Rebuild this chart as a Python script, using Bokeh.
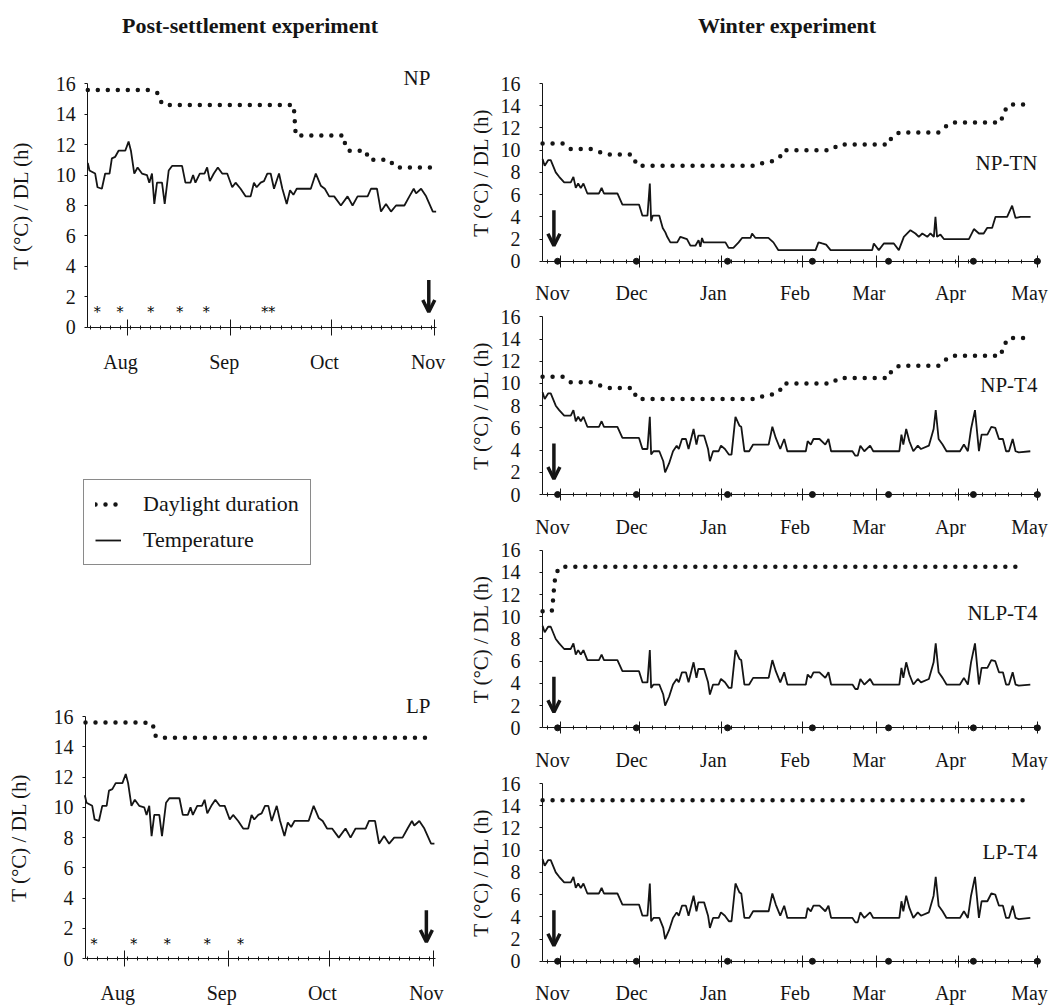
from bokeh.plotting import figure
from bokeh.models import (FixedTicker, LinearAxis, Range1d, Label, Arrow, OpenHead,
                          Legend, LegendItem, Div)
from bokeh.layouts import column, row
from bokeh.embed import file_html
from bokeh.resources import INLINE
from bokeh.core.properties import value

# ======================= DATA =======================
y_ticks = [0, 2, 4, 6, 8, 10, 12, 14, 16]

# ---- Post-settlement experiment (x = days since 1 Aug) ----
post_month_days = [0, 31, 61, 92]
post_month_names = ["Aug", "Sep", "Oct", "Nov"]

post_temp_day = [-11.8, -11.3, -9.6, -8.9, -7.6, -6.6, -5.3, -4.6, -3.6, -2.6, -0.6, 0.4, 1.1,
                 2.1, 3.1, 4.4, 5.9, 6.6, 7.4, 8.1, 8.9, 10.4, 11.2, 12.4, 13.4, 16.4, 17.4,
                 18.9, 19.7, 20.4, 21.7, 23.1, 23.9, 24.7, 25.9, 27.1, 28.4, 29.9, 31.4, 32.4,
                 33.9, 35.4, 36.9, 37.9, 38.7, 39.9, 40.9, 41.9, 42.9, 43.9, 45.4, 46.4, 47.7,
                 48.7, 49.7, 50.7, 54.9, 56.4, 57.9, 59.1, 60.4, 61.9, 63.9, 65.9, 67.4, 68.9,
                 71.9, 72.9, 74.7, 75.9, 77.4, 78.9, 80.4, 82.9, 84.4, 85.7, 86.4, 87.9, 89.4,
                 91.4, 92.4]
post_temp_val = [10.8, 10.3, 10.1, 9.2, 9.1, 10.1, 10.1, 11.1, 11.2, 11.6, 11.6, 12.2, 11.6,
                 10.1, 10.5, 10.1, 10.0, 9.5, 10.1, 8.1, 9.5, 9.5, 8.1, 10.3, 10.6, 10.6, 9.5,
                 9.5, 10.0, 9.5, 10.1, 10.1, 10.5, 9.6, 10.1, 10.5, 10.1, 10.1, 9.2, 9.5,
                 9.1, 8.6, 8.6, 9.5, 9.2, 9.5, 9.6, 10.1, 10.1, 9.1, 10.1, 9.1, 8.1,
                 9.0, 8.7, 9.1, 9.1, 10.1, 9.3, 9.1, 8.6, 8.6, 8.0, 8.6, 8.0, 8.6,
                 8.6, 9.1, 9.1, 7.6, 8.1, 7.6, 8.0, 8.0, 8.6, 9.1, 8.8, 9.1, 8.6,
                 7.6, 7.6]

np_dl_day = [-11.8, 6.5, 9.0, 9.8, 11.0, 49.8, 50.4, 64.8, 65.3, 66.5, 71.3, 72.3, 78.3, 80.3, 92.2]
np_dl_val = [15.6, 15.6, 15.4, 14.9, 14.6, 14.6, 12.6, 12.6, 11.8, 11.6, 11.6, 11.0, 11.0, 10.5, 10.5]

lp_dl_day = [-11.6, 5.8, 8.5, 8.9, 10.0, 91.2]
lp_dl_val = [15.6, 15.6, 15.5, 14.8, 14.6, 14.6]

np_star_day = [-9.0, -2.2, 7.0, 15.7, 23.6, 42.2]
np_star_txt = ["*", "*", "*", "*", "*", "**"]
lp_star_day = [-9.1, 2.8, 12.8, 24.7, 34.6]
lp_star_txt = ["*", "*", "*", "*", "*"]
star_level = 1.0

np_arrow = (90.2, 3.1, 1.0)   # day, top, tip
lp_arrow = (90.0, 3.2, 1.1)

# ---- Winter experiment (x = days since 1 Nov) ----
win_month_days = [0, 30, 61, 92, 120, 151, 181]
win_month_names = ["Nov", "Dec", "Jan", "Feb", "Mar", "Apr", "May"]
win_sample_day = [-1.1, 28.8, 63.4, 95.6, 124.5, 156.7, 181.0]

tn_temp_day = [-6.8, -6.0, -4.7, -3.7, -1.8, -0.5, 1.4, 3.9, 4.9, 5.8, 6.7, 7.7, 8.7, 10.2,
               14.6, 15.6, 16.5, 21.6, 23.5, 29.8, 31.1, 33.0, 33.9, 34.4, 35.0, 37.5, 38.8,
               39.8, 40.5, 41.7, 44.3, 45.5, 48.0, 49.3, 51.2, 52.4, 53.1, 53.7, 54.3, 62.6,
               63.8, 65.6, 67.6, 68.9, 72.1, 72.7, 74.0, 78.9, 80.8, 82.7, 96.8, 97.9, 99.3,
               100.8, 102.5, 118.3, 118.9, 120.8, 122.7, 126.5, 128.4, 130.3, 132.8, 134.7,
               136.0, 137.3, 139.2, 140.4, 141.7, 142.3, 142.9, 144.2, 145.5, 155.0, 156.9,
               158.8, 160.6, 161.9, 163.8, 165.1, 169.5, 171.4, 172.7, 174.6, 178.4]
tn_temp_val = [9.2, 8.6, 9.1, 9.1, 8.0, 7.6, 7.1, 7.1, 7.6, 6.6, 7.0, 6.6, 7.0, 6.1,
               6.1, 6.6, 6.1, 6.1, 5.1, 5.1, 4.1, 4.1, 7.0, 3.6, 4.1, 4.1, 3.0,
               2.6, 2.2, 1.7, 1.7, 2.2, 2.0, 1.4, 1.4, 1.9, 1.3, 2.1, 1.7, 1.7,
               1.2, 1.2, 1.7, 2.1, 2.1, 2.5, 2.1, 2.1, 1.7, 1.0, 1.0, 1.7, 1.6,
               1.5, 1.0, 1.0, 1.6, 1.0, 1.6, 1.6, 1.0, 2.2, 2.8, 2.5,
               2.2, 2.5, 2.2, 2.5, 2.2, 4.0, 2.2, 2.4, 2.0, 2.0, 2.9,
               2.5, 2.5, 3.0, 3.0, 4.0, 4.0, 5.0, 3.9, 4.0, 4.0]

t4_temp_day = [-6.8, -6.0, -4.7, -3.7, -1.8, -0.5, 1.4, 3.9, 4.9, 5.8, 6.7, 7.7, 8.7, 10.2,
               14.6, 15.6, 16.5, 21.6, 23.5, 29.8, 31.1, 33.0, 33.9, 34.4, 35.3, 37.5, 39.0,
               39.7, 41.2, 42.7, 44.1, 44.9, 46.1, 47.6, 48.6, 50.5, 51.6, 52.3, 54.5, 56.0,
               56.7, 57.9, 60.0, 60.9, 62.4, 63.9, 64.9, 66.4, 67.9, 68.6, 69.8, 71.6, 73.1,
               74.5, 79.0, 80.4, 81.7, 83.4, 84.9, 86.1, 93.1, 93.8, 95.0, 96.0, 98.3, 100.5,
               101.7, 102.7, 110.8, 111.9, 112.8, 113.8, 115.3, 117.5, 118.7, 128.6, 129.4,
               130.1, 131.2, 132.4, 133.9, 135.6, 136.8, 139.8, 141.6, 142.4, 143.5, 145.0,
               146.5, 151.6, 153.1, 154.6, 155.8, 157.3, 158.8, 159.8, 162.0, 163.5, 165.0,
               166.4, 167.9, 169.1, 170.2, 171.6, 172.7, 173.9, 178.3]
t4_temp_val = [9.2, 8.6, 9.1, 9.1, 8.0, 7.6, 7.1, 7.1, 7.6, 6.6, 7.0, 6.6, 7.0, 6.1,
               6.1, 6.6, 6.1, 6.1, 5.1, 5.1, 4.1, 4.1, 7.0, 3.6, 3.9, 3.9, 3.0,
               2.0, 2.8, 3.9, 4.4, 4.1, 5.0, 5.0, 4.1, 5.9, 4.5, 5.3, 5.3, 4.1,
               3.0, 3.9, 3.9, 4.4, 4.1, 3.6, 3.6, 7.0, 6.2, 6.1, 3.9, 3.9, 4.5,
               4.5, 4.5, 6.1, 5.1, 4.1, 5.0, 3.9, 3.9, 4.8, 4.5, 5.0, 5.0, 4.5,
               5.0, 3.9, 3.9, 3.5, 3.5, 4.4, 3.9, 4.4, 3.9, 3.9, 5.4,
               4.5, 5.9, 4.8, 3.9, 4.4, 4.1, 4.4, 5.9, 7.6, 5.0, 4.5,
               3.9, 3.9, 4.5, 3.9, 5.9, 7.6, 3.9, 5.4, 5.4, 6.1, 6.0,
               5.0, 5.0, 3.9, 3.9, 5.0, 3.9, 3.8, 3.9]

npw_dl_day = [-6.8, 1.0, 3.8, 11.6, 13.9, 17.7, 27.2, 29.1, 74.0, 76.0, 80.2, 83.1, 84.6,
              102.7, 105.7, 124.5, 125.7, 128.7, 143.5, 146.5, 148.7, 167.2, 167.9, 170.2, 177.0]
npw_dl_val = [10.6, 10.6, 10.1, 10.1, 9.9, 9.6, 9.6, 8.6, 8.6, 8.8, 9.0, 9.3, 10.0,
              10.0, 10.5, 10.5, 11.2, 11.6, 11.6, 12.2, 12.5, 12.5, 13.3, 14.1, 14.1]

nlp_dl_day = [-6.8, -3.3, -2.9, -2.6, -2.2, -1.2, 0.0, 176.0]
nlp_dl_val = [10.5, 10.5, 11.3, 12.2, 13.2, 14.1, 14.5, 14.5]

lpw_dl_day = [-6.8, 176.0]
lpw_dl_val = [14.5, 14.5]

win_arrow = (-2.5, 4.6, 1.4)

win_panels = [
    ("NP-TN", tn_temp_day, tn_temp_val, npw_dl_day, npw_dl_val, 8.8),
    ("NP-T4", t4_temp_day, t4_temp_val, npw_dl_day, npw_dl_val, 9.9),
    ("NLP-T4", t4_temp_day, t4_temp_val, nlp_dl_day, nlp_dl_val, 10.3),
    ("LP-T4", t4_temp_day, t4_temp_val, lpw_dl_day, lpw_dl_val, 9.8),
]

# ======================= STYLE / LAYOUT =======================
FONT = "Liberation Serif"
INK = "#151515"
DOT = "0 10"


def y_window(fig_h, px_above_16, unit):
    top = 16 + px_above_16 / unit
    return (top - fig_h / unit, top)


def x_window(fig_w, px_left, start, unit):
    lo = start - px_left / unit
    return (lo, lo + fig_w / unit)


def make_panel(w, h, xr, yr, x_bounds, months, names, shift, minor, tick_len,
               lab_standoff, ytick_standoff, ylab_standoff):
    p = figure(width=w, height=h, x_range=Range1d(*xr), y_range=Range1d(*yr),
               output_backend="svg", toolbar_location=None,
               min_border_left=0, min_border_right=0, min_border_top=0,
               min_border_bottom=0, outline_line_color=None)
    p.xgrid.visible = False
    p.ygrid.visible = False

    ya = p.yaxis[0]
    ya.fixed_location = x_bounds[0]
    ya.ticker = FixedTicker(ticks=y_ticks, minor_ticks=[])
    ya.bounds = (0, 16)
    ya.axis_label = "T (°C) / DL (h)"
    ya.axis_label_text_font = FONT
    ya.axis_label_text_font_size = "21px"
    ya.axis_label_text_font_style = "normal"
    ya.axis_label_text_color = INK
    ya.axis_label_standoff = ylab_standoff
    ya.major_label_text_font = FONT
    ya.major_label_text_font_size = "20px"
    ya.major_label_text_color = INK
    ya.major_label_standoff = ytick_standoff
    ya.major_tick_in = 0
    ya.major_tick_out = 3
    ya.minor_tick_in = 0
    ya.minor_tick_out = 0
    ya.axis_line_color = INK
    ya.major_tick_line_color = INK

    xa = p.xaxis[0]
    xa.fixed_location = 0
    xa.bounds = x_bounds
    xa.ticker = FixedTicker(ticks=months, minor_ticks=minor)
    xa.major_label_overrides = {m: "" for m in months}
    xa.major_tick_in = tick_len
    xa.major_tick_out = tick_len
    xa.minor_tick_in = 2
    xa.minor_tick_out = 2
    xa.axis_line_color = INK
    xa.major_tick_line_color = INK
    xa.minor_tick_line_color = INK

    lab_days = [m - shift for m in months]
    la = LinearAxis(fixed_location=0, ticker=FixedTicker(ticks=lab_days, minor_ticks=[]),
                    major_label_overrides=dict(zip(lab_days, names)),
                    axis_line_color=None, major_tick_line_color=None,
                    minor_tick_line_color=None, major_tick_in=0, major_tick_out=0,
                    minor_tick_in=0, minor_tick_out=0,
                    major_label_standoff=lab_standoff,
                    major_label_text_font=FONT, major_label_text_font_size="20px",
                    major_label_text_color=INK)
    p.add_layout(la, "below")
    return p


def add_series(p, t_day, t_val, dl_day, dl_val):
    dl_r = p.line(dl_day, dl_val, line_dash=DOT, line_cap="round", line_width=4.5,
                  line_color=INK)
    t_r = p.line(t_day, t_val, line_width=1.8, line_color=INK)
    return dl_r, t_r


def add_arrow(p, arr):
    d, top, tip = arr
    p.add_layout(Arrow(end=OpenHead(size=12, line_width=3.5, line_color=INK),
                       x_start=d, y_start=top, x_end=d, y_end=tip,
                       line_width=3.5, line_color=INK))


def add_tag(p, x, y, txt):
    p.add_layout(Label(x=x, y=y, text=txt, text_align="right", text_baseline="middle",
                       text_font=FONT, text_font_size="21px", text_color=INK))


def add_stars(p, days, txt):
    p.text(x=days, y=[star_level] * len(days), text=txt,
           text_font=value("DejaVu Serif"), text_font_size="14px", text_align="center",
           text_baseline="middle", text_color="black")


post_minor = [d for d in range(-11, 93, 3) if d not in post_month_days]
win_minor = [d for d in range(-5, 181, 5) if d not in win_month_days]

# ---------- left column (x 0..452) ----------
np_x0, lp_x0 = -11.8, -11.6
np_fig = make_panel(452, 523, x_window(452, 87.3, np_x0, 3.343), y_window(523, 28.3, 15.21),
                    (np_x0, 92.6), post_month_days, post_month_names, 2, post_minor, 8,
                    24, 9, 20)
dl_r, t_r = add_series(np_fig, post_temp_day, post_temp_val, np_dl_day, np_dl_val)
add_stars(np_fig, np_star_day, np_star_txt)
add_arrow(np_fig, np_arrow)
add_tag(np_fig, 90.7, 16.35, "NP")
legend = Legend(items=[LegendItem(label="Daylight duration", renderers=[dl_r]),
                       LegendItem(label="Temperature", renderers=[t_r])],
                location=(83, 13), border_line_color=INK, border_line_width=1,
                label_text_font=FONT, label_text_font_size="22px", label_text_color=INK,
                glyph_width=26, glyph_height=22, label_standoff=22, padding=11,
                spacing=10, margin=0, background_fill_color="white")
np_fig.add_layout(legend, "center")

lp_fig = make_panel(452, 428, x_window(452, 85.0, lp_x0, 3.355), y_window(428, 138, 15.14),
                    (lp_x0, 92.6), post_month_days, post_month_names, 2, post_minor, 8,
                    23, 9, 20)
add_series(lp_fig, post_temp_day, post_temp_val, lp_dl_day, lp_dl_val)
add_stars(lp_fig, lp_star_day, lp_star_txt)
add_arrow(lp_fig, lp_arrow)
add_tag(lp_fig, 91.2, 16.7, "LP")

# ---------- right column (x 452..1052) ----------
win_x0 = -6.83
win_sizes = [(248, 28.0), (234, 13.3), (233, 12.6), (236, 13.0)]
win_figs = []
for (tag, td, tv, dd, dv, tag_y), (h, above16) in zip(win_panels, win_sizes):
    f = make_panel(600, h, x_window(600, 90, win_x0, 2.635), y_window(h, above16, 11.11),
                   (win_x0, 181), win_month_days, win_month_names, 3, win_minor, 6,
                   21, 19, 5)
    add_series(f, td, tv, dd, dv)
    f.scatter(win_sample_day, [0] * len(win_sample_day), size=6, color=INK)
    add_arrow(f, win_arrow)
    add_tag(f, 181, tag_y, tag)
    win_figs.append(f)

title_html = (
    '<div style="position:relative;width:1052px;height:55px;'
    "font-family:'Liberation Serif',serif;font-weight:bold;font-size:22px;color:#151515;\">"
    '<div style="position:absolute;left:50px;top:10px;width:400px;text-align:center;">'
    'Post-settlement experiment</div>'
    '<div style="position:absolute;left:587px;top:10px;width:400px;text-align:center;">'
    'Winter experiment</div></div>'
)
titles = Div(text=title_html, width=1052, height=55, margin=(0, 0, 0, 0))

left = column(np_fig, lp_fig, spacing=0)
right = column(*win_figs, spacing=0)
layout = column(titles, row(left, right, spacing=0), spacing=0)

open("out.html", "w").write(file_html(layout, INLINE))
